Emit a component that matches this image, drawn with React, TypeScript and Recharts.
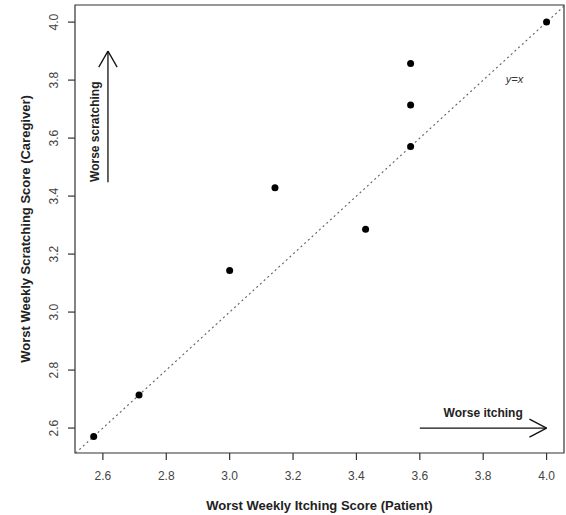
import {
  ScatterChart,
  Scatter,
  XAxis,
  YAxis,
  ReferenceLine,
  ReferenceArea,
  ReferenceDot,
  Label,
} from 'recharts';

// ---- data (scores are multiples of 1/7) ----
const patientScores = [2.571, 2.714, 3.0, 3.143, 3.429, 3.571, 3.571, 3.571, 4.0];
const caregiverScores = [2.571, 2.714, 3.143, 3.429, 3.286, 3.571, 3.714, 3.857, 4.0];
const xTicks = [2.6, 2.8, 3.0, 3.2, 3.4, 3.6, 3.8, 4.0];
const yTicks = [2.6, 2.8, 3.0, 3.2, 3.4, 3.6, 3.8, 4.0];

const xDomain: [number, number] = [2.512, 4.055];
const yDomain: [number, number] = [2.514, 4.059];

const points = patientScores.map((x, i) => ({ x, y: caregiverScores[i] }));

const FONT = '"Liberation Sans", Arial, Helvetica, sans-serif';
const INK = '#222';

function YTick({ x, y, payload }: any) {
  const bx = x - 10;
  return (
    <text
      x={bx}
      y={y}
      transform={`rotate(-90 ${bx} ${y})`}
      textAnchor="middle"
      fontSize={12}
      fill="#444"
      fontFamily={FONT}
    >
      {Number(payload.value).toFixed(1)}
    </text>
  );
}

function XTitle({ viewBox }: any) {
  const vb = viewBox || { x: 75, y: 453, width: 489, height: 62 };
  return (
    <text
      x={vb.x + vb.width / 2}
      y={510}
      textAnchor="middle"
      fontSize={13}
      fontWeight="bold"
      fill={INK}
      fontFamily={FONT}
    >
      Worst Weekly Itching Score (Patient)
    </text>
  );
}

function YTitle({ viewBox }: any) {
  const vb = viewBox || { x: 0, y: 5, width: 75, height: 448 };
  const cx = 29.5;
  const cy = vb.y + vb.height / 2;
  return (
    <text
      x={cx}
      y={cy}
      transform={`rotate(-90 ${cx} ${cy})`}
      textAnchor="middle"
      fontSize={13}
      fontWeight="bold"
      fill={INK}
      fontFamily={FONT}
    >
      Worst Weekly Scratching Score (Caregiver)
    </text>
  );
}

const arrowStroke = { stroke: '#111', strokeWidth: 1.3 };

export default function App() {
  return (
    <div
      style={{
        position: 'absolute',
        left: 0,
        top: 0,
        width: 566,
        height: 515,
        background: '#fff',
        fontFamily: FONT,
      }}
    >
      <ScatterChart
        width={566}
        height={515}
        margin={{ top: 5, right: 2, bottom: 0, left: 0 }}
      >
        <XAxis
          type="number"
          dataKey="x"
          domain={xDomain}
          ticks={xTicks}
          tickFormatter={(v: number) => v.toFixed(1)}
          axisLine={false}
          tickLine={{ stroke: '#333', strokeWidth: 1.2 }}
          tickSize={7}
          tickMargin={11}
          height={62}
          tick={{ fontSize: 12, fill: '#444', fontFamily: FONT }}
          label={<Label content={<XTitle />} />}
        />
        <YAxis
          type="number"
          dataKey="y"
          domain={yDomain}
          ticks={yTicks}
          axisLine={false}
          tickLine={{ stroke: '#333', strokeWidth: 1.2 }}
          tickSize={7}
          tickMargin={0}
          width={75}
          tick={<YTick />}
          label={<Label content={<YTitle />} />}
        />

        {/* plot frame */}
        <ReferenceArea
          x1={xDomain[0]}
          x2={xDomain[1]}
          y1={yDomain[0]}
          y2={yDomain[1]}
          fill="#fff"
          fillOpacity={0}
          stroke="#333"
          strokeWidth={1.2}
          ifOverflow="visible"
        />

        {/* y = x */}
        <ReferenceLine
          segment={[
            { x: 2.514, y: 2.514 },
            { x: 4.055, y: 4.055 },
          ]}
          stroke="#666"
          strokeWidth={1.1}
          strokeDasharray="2 3"
          ifOverflow="visible"
        />

        {/* worse scratching arrow */}
        <ReferenceLine segment={[{ x: 2.616, y: 3.448 }, { x: 2.616, y: 3.9 }]} {...arrowStroke} ifOverflow="visible" />
        <ReferenceLine segment={[{ x: 2.587, y: 3.845 }, { x: 2.616, y: 3.9 }]} {...arrowStroke} ifOverflow="visible" />
        <ReferenceLine segment={[{ x: 2.645, y: 3.845 }, { x: 2.616, y: 3.9 }]} {...arrowStroke} ifOverflow="visible" />

        {/* worse itching arrow */}
        <ReferenceLine segment={[{ x: 3.6, y: 2.6 }, { x: 4.0, y: 2.6 }]} {...arrowStroke} ifOverflow="visible" />
        <ReferenceLine segment={[{ x: 3.946, y: 2.631 }, { x: 4.0, y: 2.6 }]} {...arrowStroke} ifOverflow="visible" />
        <ReferenceLine segment={[{ x: 3.946, y: 2.569 }, { x: 4.0, y: 2.6 }]} {...arrowStroke} ifOverflow="visible" />

        <ReferenceDot
          x={2.575}
          y={3.622}
          r={1}
          ifOverflow="visible"
          shape={(p: any) => (
            <text
              x={p.cx + 4}
              y={p.cy}
              transform={`rotate(-90 ${p.cx + 4} ${p.cy})`}
              textAnchor="middle"
              fontSize={12}
              fontWeight="bold"
              fill={INK}
              fontFamily={FONT}
            >
              Worse scratching
            </text>
          )}
        />
        <ReferenceDot
          x={3.8}
          y={2.652}
          r={1}
          ifOverflow="visible"
          shape={(p: any) => (
            <text
              x={p.cx}
              y={p.cy + 4}
              textAnchor="middle"
              fontSize={12}
              fontWeight="bold"
              fill={INK}
              fontFamily={FONT}
            >
              Worse itching
            </text>
          )}
        />
        <ReferenceDot
          x={3.899}
          y={3.803}
          r={1}
          ifOverflow="visible"
          shape={(p: any) => (
            <text
              x={p.cx}
              y={p.cy + 4}
              textAnchor="middle"
              fontSize={11}
              fontStyle="italic"
              fill="#333"
              fontFamily={FONT}
            >
              y=x
            </text>
          )}
        />

        <Scatter
          data={points}
          isAnimationActive={false}
          shape={(p: any) => <circle cx={p.cx} cy={p.cy} r={3.5} fill="#000" />}
        />
      </ScatterChart>
    </div>
  );
}
